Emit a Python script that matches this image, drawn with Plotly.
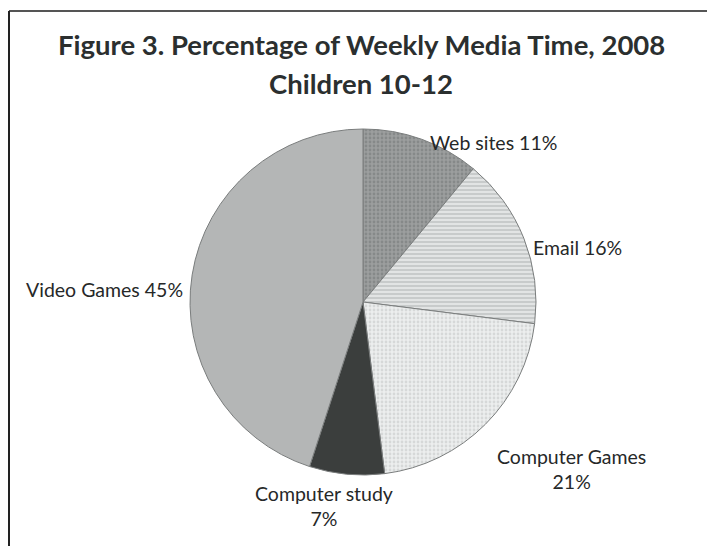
import plotly.graph_objects as go

# ---- data ----
categories = ["Web sites", "Email", "Computer Games", "Computer study", "Video Games"]
values = [11, 16, 21, 7, 45]
label_sep = [" ", " ", "<br>", "<br>", " "]
title_lines = ["Figure 3. Percentage of Weekly Media Time, 2008", "Children 10-12"]

# ---- styles ----
W, H = 715, 546
OFF = 8  # page offset of the figure inside the window
bg_colors = ["#9c9e9e", "#e2e4e4", "#eceeee", "#3b3e3d", "#b4b6b6"]
fg_colors = ["#707373", "#9ea2a2", "#bfc2c2", "#3b3e3d", "#b4b6b6"]
shapes_pat = [".", "-", ".", "", ""]
label_pos = [(493, 142), (577, 247), (571, 469), (324, 506), (104, 289)]

cx, cy, r = 363, 302, 173


def px_x(v):
    return (v - OFF) / W


def px_y(v):
    return 1 - (v - OFF) / H


fig = go.Figure(go.Pie(
    labels=categories,
    values=values,
    sort=False,
    direction="clockwise",
    rotation=0,
    textinfo="none",
    hoverinfo="label+percent",
    showlegend=False,
    marker=dict(
        colors=bg_colors,
        line=dict(color="#7a7d7d", width=1),
        pattern=dict(shape=shapes_pat, fgcolor=fg_colors, bgcolor=bg_colors,
                     size=4, solidity=0.38, fillmode="overlay"),
    ),
    domain=dict(x=[px_x(cx - r), px_x(cx + r)],
                y=[px_y(cy + r), px_y(cy - r)]),
))

annotations = []
for cat, val, sep, (px, py) in zip(categories, values, label_sep, label_pos):
    annotations.append(dict(
        text=f"{cat}{sep}{val}%", x=px_x(px), y=px_y(py), xref="paper", yref="paper",
        showarrow=False, xanchor="center", yanchor="middle",
        font=dict(family="Lato", size=19.5, color="#262828"), align="center",
    ))
for t, py in zip(title_lines, [45, 84]):
    annotations.append(dict(
        text=f"<b>{t}</b>", x=px_x(361), y=px_y(py), xref="paper", yref="paper",
        showarrow=False, xanchor="center", yanchor="middle",
        font=dict(family="Lato", size=27.5, color="#2b2f2f"),
    ))

fig.update_layout(
    width=W, height=H,
    margin=dict(l=0, r=0, t=0, b=0),
    paper_bgcolor="white", plot_bgcolor="white",
    annotations=annotations,
    shapes=[
        dict(type="line", xref="paper", yref="paper", x0=1 / W, x1=1, y0=px_y(11), y1=px_y(11),
             line=dict(color="#555", width=2)),
        dict(type="line", xref="paper", yref="paper", x0=1 / W, x1=1 / W, y0=0, y1=px_y(11),
             line=dict(color="#222", width=2)),
    ],
)

fig.write_html("out.html")
